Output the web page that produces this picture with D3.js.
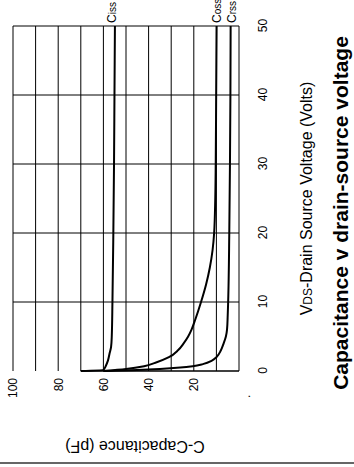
<!DOCTYPE html>
<html>
<head>
<meta charset="utf-8">
<script src="https://cdn.jsdelivr.net/npm/d3@7/dist/d3.min.js"></script>
<style>
  body { margin: 0; background: #fff; }
  text { font-family: "Liberation Sans", Arial, sans-serif; fill: #000; }
</style>
</head>
<body>
<svg id="chart" width="354" height="467"></svg>
<script>
// values (VDS in volts, capacitance in pF)
const vdsTicks = [0, 10, 20, 30, 40, 50];
const capTicks = [20, 40, 60, 80, 100];
const capGrid = [0, 10, 20, 30, 40, 50, 60, 70, 80, 90, 100];

const ciss = [[0, 70], [0.15, 60], [0.7, 59], [1.5, 58], [2.5, 57.3], [3.5, 56.6], [5, 56.3],
    [10, 56], [20, 55.6], [30, 55.3], [40, 55.1], [50, 54.9]];
const coss = [[0, 60], [0.3, 50], [0.7, 42], [1.2, 37], [2, 31], [3, 27], [4, 24.5], [5, 22.5],
    [6, 21], [7.5, 19.3], [10, 16.8], [12.5, 14.6], [15, 12.9], [17.5, 11.7], [20, 11],
    [25, 10.5], [30, 10.3], [40, 10.1], [50, 9.9]];
const crss = [[0, 60], [0.15, 45], [0.3, 35], [0.5, 26], [0.7, 20.5], [1, 16], [1.5, 12],
    [2, 10], [3, 8], [4, 6.8], [5, 5.8], [6, 5.3], [8, 5], [10, 4.8], [20, 4.3],
    [30, 4], [40, 3.8], [50, 3.7]];
const curveNames = [['C', 'iss'], ['C', 'oss'], ['C', 'rss']];

const svg = d3.select('#chart');

// the whole chart is drawn on its side
const width = 345, height = 226;
const g = svg.append('g')
    .attr('transform', 'translate(13,371) rotate(-90)');

const x = d3.scaleLinear().domain([0, 50]).range([0, width]);
const y = d3.scaleLinear().domain([0, 100]).range([height, 0]);

// grid
g.append('g').selectAll('line')
    .data(capGrid)
    .join('line')
    .attr('x1', 0).attr('x2', width)
    .attr('y1', d => y(d)).attr('y2', d => y(d))
    .attr('stroke', '#000').attr('stroke-width', 1);

g.append('g').selectAll('line')
    .data(vdsTicks.filter(d => d > 0))
    .join('line')
    .attr('x1', d => x(d)).attr('x2', d => x(d))
    .attr('y1', 0).attr('y2', height)
    .attr('stroke', '#000').attr('stroke-width', 1);

// VDS = 0 line only runs part way
g.append('line')
    .attr('x1', x(0)).attr('x2', x(0))
    .attr('y1', y(0)).attr('y2', y(ciss[0][1]))
    .attr('stroke', '#000').attr('stroke-width', 1.6);

// axes
const xAxis = g.append('g')
    .attr('transform', `translate(0,${height})`)
    .call(d3.axisBottom(x).tickValues(vdsTicks).tickSize(0).tickPadding(19));
const yAxis = g.append('g')
    .call(d3.axisLeft(y).tickValues(capTicks).tickSize(0).tickPadding(7));
[xAxis, yAxis].forEach(a => {
    a.select('.domain').remove();
    a.selectAll('text')
        .style('font-family', '"Liberation Sans", Arial, sans-serif')
        .attr('font-size', '12px').attr('fill', '#000');
});

// curves
const line = d3.line()
    .x(d => x(d[0]))
    .y(d => y(d[1]))
    .curve(d3.curveMonotoneX);

[ciss, coss, crss].forEach(s => {
    g.append('path')
        .attr('d', line(s))
        .attr('fill', 'none')
        .attr('stroke', '#000')
        .attr('stroke-width', 2);
});

// curve labels past the end of each curve
const labelShift = [1, 4, 5];
[ciss, coss, crss].forEach((s, i) => {
    const last = s[s.length - 1];
    const t = g.append('text')
        .attr('x', x(50) + 3)
        .attr('y', y(last[1]) + labelShift[i])
        .attr('font-size', '12px');
    t.append('tspan').text(curveNames[i][0]);
    t.append('tspan').attr('font-size', '10px').text(curveNames[i][1]);
});

// axis titles
const xTitle = g.append('text')
    .attr('x', x(25))
    .attr('y', 299)
    .attr('text-anchor', 'middle')
    .attr('font-size', '16px');
xTitle.append('tspan').text('V');
xTitle.append('tspan').attr('font-size', '12px').text('DS');
xTitle.append('tspan').text('-Drain Source Voltage (Volts)');

g.append('text')
    .attr('transform', 'translate(-70,122) rotate(-90)')
    .attr('text-anchor', 'middle')
    .attr('font-size', '16px')
    .text('C-Capacitance (pF)');

g.append('text')
    .attr('x', -27)
    .attr('y', 237)
    .attr('font-size', '12px')
    .text('.');

// title
g.append('text')
    .attr('x', 158)
    .attr('y', 335)
    .attr('text-anchor', 'middle')
    .attr('font-size', '21px')
    .attr('font-weight', 'bold')
    .text('Capacitance v drain-source voltage');

// frame line at the foot of the picture
svg.append('line')
    .attr('x1', 0).attr('x2', 354)
    .attr('y1', 463).attr('y2', 463)
    .attr('stroke', '#666').attr('stroke-width', 2);
</script>
</body>
</html>
